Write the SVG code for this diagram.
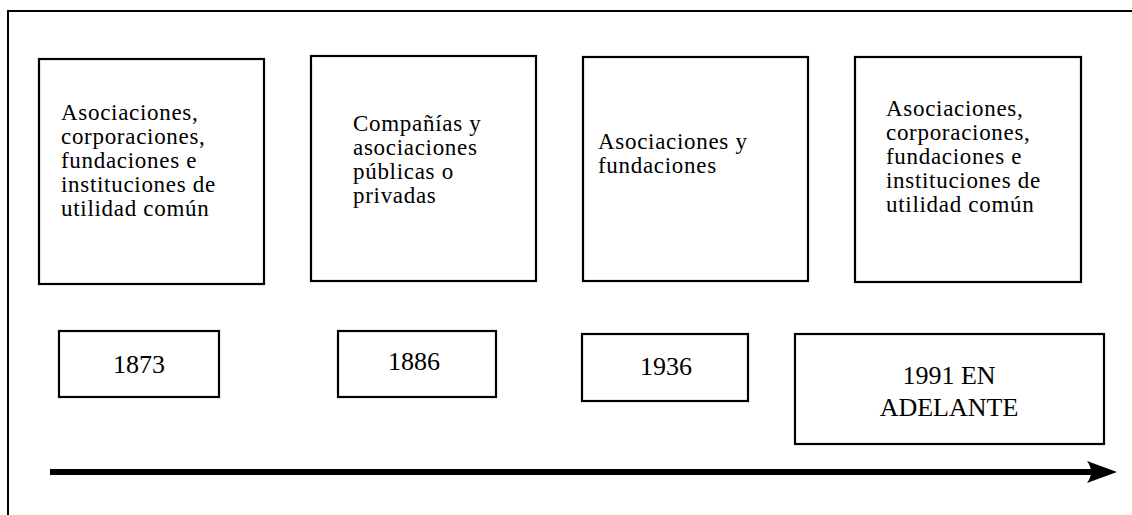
<svg xmlns="http://www.w3.org/2000/svg" width="1132" height="515" viewBox="0 0 1132 515">
<style>
.box{fill:#fff;stroke:#000;stroke-width:2.2}
.t{font-family:"Liberation Serif","Times New Roman",serif;font-size:23px;fill:#000;letter-spacing:0.7px}
.y{font-family:"Liberation Serif","Times New Roman",serif;font-size:26px;fill:#000;text-anchor:middle}
.frame{fill:none;stroke:#000;stroke-width:2}
</style>
<rect width="1132" height="515" fill="#fff"/>
<path class="frame" d="M8,515 V11 H1132"/>
<g id="n1"><rect class="box" x="39" y="59" width="225" height="225"/>
<text class="t"><tspan x="61" y="120">Asociaciones,</tspan><tspan x="61" y="144">corporaciones,</tspan><tspan x="61" y="168">fundaciones e</tspan><tspan x="61" y="192">instituciones de</tspan><tspan x="61" y="216">utilidad común</tspan></text></g>
<g id="n2"><rect class="box" x="311" y="56" width="225" height="225"/>
<text class="t"><tspan x="353" y="131">Compañías y</tspan><tspan x="353" y="155">asociaciones</tspan><tspan x="353" y="179">públicas o</tspan><tspan x="353" y="203">privadas</tspan></text></g>
<g id="n3"><rect class="box" x="583" y="57" width="225" height="224"/>
<text class="t"><tspan x="598" y="149">Asociaciones y</tspan><tspan x="598" y="173">fundaciones</tspan></text></g>
<g id="n4"><rect class="box" x="855" y="57" width="226" height="225"/>
<text class="t"><tspan x="886" y="116">Asociaciones,</tspan><tspan x="886" y="140">corporaciones,</tspan><tspan x="886" y="164">fundaciones e</tspan><tspan x="886" y="188">instituciones de</tspan><tspan x="886" y="212">utilidad común</tspan></text></g>
<g id="y1873"><rect class="box" x="59" y="331" width="160" height="66"/><text class="y" x="139" y="373">1873</text></g>
<g id="y1886"><rect class="box" x="338" y="331" width="158" height="66"/><text class="y" x="414" y="370">1886</text></g>
<g id="y1936"><rect class="box" x="582" y="334" width="166" height="67"/><text class="y" x="666" y="375">1936</text></g>
<g id="y1991"><rect class="box" x="795" y="334" width="309" height="110"/><text class="y"><tspan x="949" y="384">1991 EN</tspan><tspan x="949" y="416">ADELANTE</tspan></text></g>
<g id="connectors">
<line x1="50" y1="472" x2="1094" y2="472" stroke="#000" stroke-width="6"/>
<path d="M1117,472 L1087,461 Q1095,472 1087,483 Z" fill="#000"/>
</g>
</svg>
